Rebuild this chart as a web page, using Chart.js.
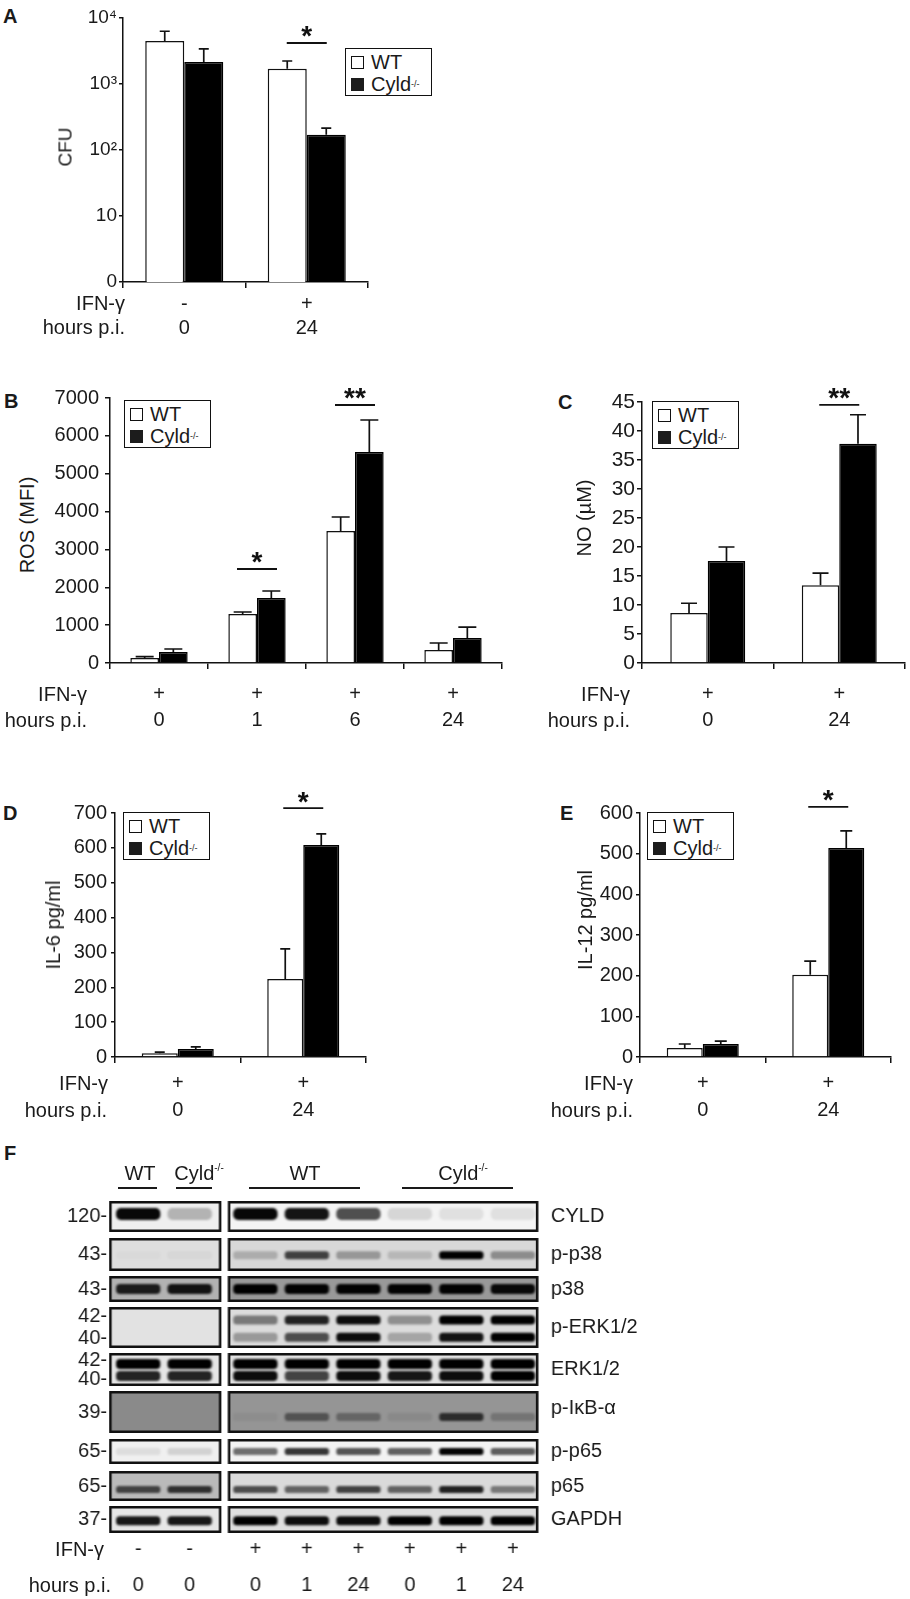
<!DOCTYPE html>
<html><head><meta charset="utf-8">
<script src="https://cdn.jsdelivr.net/npm/chart.js@4.4.1/dist/chart.umd.min.js"></script>
<style>
html,body{margin:0;padding:0;background:#fff}
body{width:910px;height:1599px;position:relative;overflow:hidden;font-family:'Liberation Sans',Arial,Helvetica,sans-serif;color:#1a1a1a}
.t{position:absolute;white-space:nowrap;line-height:1}
.t sup{font-size:10px;vertical-align:9px;line-height:0}
.legend{position:absolute;width:87px;height:48px;border:1.5px solid #111;box-sizing:border-box;background:#fff}
.legend .lr{position:absolute;left:5px;height:18px;display:flex;align-items:center;font-size:20px;line-height:1;white-space:nowrap}
.legend .sw{display:inline-block;width:13px;height:13px;box-sizing:border-box;border:1.5px solid #111;background:#fff;margin-right:7px}
.legend .sw.blk{background:#1c1c1c;border-color:#1c1c1c}
.legend sup{font-size:9px;vertical-align:9px;line-height:0}
.uline{position:absolute;height:2px;background:#1a1a1a}
</style></head><body>
<script>
// ---------------- DATA ----------------
// Panel A (CFU, log axis)
const aIFN = ['-', '+'];
const aHours = ['0', '24'];
const aWT = [4470, 1700];
const aWTErr = [1830, 530];
const aCyld = [2150, 170];
const aCyldErr = [1250, 45];
const aTickValues = [1, 10, 100, 1000, 10000];
const aTickLabels = ['0', '10', '10\u00B2', '10\u00B3', '10\u2074'];
const aSigCat = [1]; const aSigText = ['*']; const aSigLevel = [4180];

// Panel B (ROS MFI)
const bIFN = ['+', '+', '+', '+'];
const bHours = ['0', '1', '6', '24'];
const bWT = [132, 1294, 3487, 343];
const bWTErr = [35, 53, 370, 185];
const bCyld = [290, 1717, 5574, 660];
const bCyldErr = [80, 185, 845, 290];
const bTicks = [0, 1000, 2000, 3000, 4000, 5000, 6000, 7000];
const bSigCat = [1, 2]; const bSigText = ['*', '**']; const bSigLevel = [2483, 6815];

// Panel C (NO uM)
const cIFN = ['+', '+'];
const cHours = ['0', '24'];
const cWT = [8.6, 13.4];
const cWTErr = [1.7, 2.1];
const cCyld = [17.6, 37.8];
const cCyldErr = [2.4, 5.0];
const cTicks = [0, 5, 10, 15, 20, 25, 30, 35, 40, 45];
const cSigCat = [1]; const cSigText = ['**']; const cSigLevel = [44.5];

// Panel D (IL-6 pg/ml)
const dIFN = ['+', '+'];
const dHours = ['0', '24'];
const dWT = [11, 224];
const dWTErr = [3, 86];
const dCyld = [23, 608];
const dCyldErr = [6, 32];
const dTicks = [0, 100, 200, 300, 400, 500, 600, 700];
const dSigCat = [1]; const dSigText = ['*']; const dSigLevel = [714];

// Panel E (IL-12 pg/ml)
const eIFN = ['+', '+'];
const eHours = ['0', '24'];
const eWT = [22, 202];
const eWTErr = [10, 34];
const eCyld = [32, 514];
const eCyldErr = [7, 42];
const eTicks = [0, 100, 200, 300, 400, 500, 600];
const eSigCat = [1]; const eSigText = ['*']; const eSigLevel = [615];

// Panel F (western blot) - band intensities per lane (0..1)
const fIFN = ['-', '-', '+', '+', '+', '+', '+', '+'];
const fHours = ['0', '0', '0', '1', '24', '0', '1', '24'];
const fProteins = ['CYLD', 'p-p38', 'p38', 'p-ERK1/2', 'ERK1/2', 'p-I\u03BAB-\u03B1', 'p-p65', 'p65', 'GAPDH'];
const fMW = [['120-'], ['43-'], ['43-'], ['42-', '40-'], ['42-', '40-'], ['39-'], ['65-'], ['65-'], ['37-']];
const bandCYLD   = [0.97, 0.25, 0.97, 0.92, 0.68, 0.12, 0.08, 0.08];
const bandPP38   = [0.02, 0.03, 0.2, 0.7, 0.3, 0.15, 1.0, 0.35];
const bandP38    = [0.85, 0.9, 1.0, 0.98, 0.98, 0.98, 0.98, 0.95];
const bandPERK42 = [0, 0, 0.45, 0.85, 0.95, 0.35, 1.0, 1.0];
const bandPERK40 = [0, 0, 0.3, 0.65, 0.95, 0.25, 0.92, 1.0];
const bandERK42  = [1.0, 1.0, 1.0, 1.0, 1.0, 1.0, 1.0, 1.0];
const bandERK40  = [0.85, 0.85, 0.95, 0.7, 0.95, 0.9, 0.95, 1.0];
const bandPIKB   = [0, 0, 0.05, 0.45, 0.32, 0.08, 0.7, 0.22];
const bandPP65   = [0.08, 0.12, 0.55, 0.78, 0.65, 0.6, 0.98, 0.62];
const bandP65    = [0.65, 0.75, 0.65, 0.55, 0.7, 0.55, 0.85, 0.45];
const bandGAPDH  = [0.9, 0.9, 1.0, 0.95, 0.95, 1.0, 1.0, 1.0];
const fBands = [[bandCYLD], [bandPP38], [bandP38], [bandPERK42, bandPERK40], [bandERK42, bandERK40],
                [bandPIKB], [bandPP65], [bandP65], [bandGAPDH]];

// ---------------- LAYOUT / STYLE (not data) ----------------
const FONT = "'Liberation Sans', Arial, Helvetica, sans-serif";
Chart.defaults.font.family = FONT;
Chart.defaults.color = '#1a1a1a';
Chart.defaults.animation = false;

function mount(left, top, w, h) {
  const d = document.createElement('div');
  d.style.cssText = `position:absolute;left:${left}px;top:${top}px;width:${w}px;height:${h}px`;
  const c = document.createElement('canvas');
  d.appendChild(c); document.body.appendChild(d);
  return c;
}
function txt(html, x, y, o = {}) {
  const d = document.createElement('div');
  d.className = 't'; d.innerHTML = html;
  const size = o.size || 20;
  const tx = o.align === 'right' ? '-100%' : o.align === 'center' ? '-50%' : '0';
  d.style.left = x + 'px'; d.style.top = y + 'px';
  d.style.fontSize = size + 'px';
  d.style.fontWeight = o.bold ? '700' : '400';
  d.style.transform = o.rot ? 'translate(-50%,-50%) rotate(-90deg)' : `translate(${tx},-50%)`;
  document.body.appendChild(d);
}
function legend(x, y) {
  const d = document.createElement('div');
  d.className = 'legend';
  d.style.left = x + 'px'; d.style.top = y + 'px';
  d.innerHTML = '<div class="lr" style="top:4px"><span class="sw"></span>WT</div>' +
                '<div class="lr" style="top:26px"><span class="sw blk"></span>Cyld<sup>-/-</sup></div>';
  document.body.appendChild(d);
}

const errPlugin = {
  id: 'errbars',
  afterDatasetsDraw(chart, args, opts) {
    const ctx = chart.ctx, ys = chart.scales.y;
    chart.data.datasets.forEach((ds, di) => {
      const meta = chart.getDatasetMeta(di);
      meta.data.forEach((bar, i) => {
        const v = ds.data[i], e = opts.errs[di][i];
        const yb = ys.getPixelForValue(v), yt = ys.getPixelForValue(v + e);
        ctx.save();
        ctx.strokeStyle = '#111'; ctx.lineWidth = 1.7;
        ctx.beginPath();
        ctx.moveTo(bar.x, yb); ctx.lineTo(bar.x, yt);
        ctx.moveTo(bar.x - opts.cap, yt); ctx.lineTo(bar.x + opts.cap, yt);
        ctx.stroke();
        ctx.restore();
      });
    });
  }
};
const sigPlugin = {
  id: 'sigbars',
  afterDraw(chart, args, opts) {
    const ctx = chart.ctx, xs = chart.scales.x, ys = chart.scales.y;
    opts.cats.forEach((cat, k) => {
      const cx = xs.getPixelForValue(cat);
      const ly = ys.getPixelForValue(opts.levels[k]);
      ctx.save();
      ctx.strokeStyle = '#111'; ctx.lineWidth = 1.8;
      ctx.beginPath(); ctx.moveTo(cx - opts.half, ly); ctx.lineTo(cx + opts.half, ly); ctx.stroke();
      ctx.fillStyle = '#111';
      ctx.font = 'bold 28px ' + FONT;
      ctx.textAlign = 'center'; ctx.textBaseline = 'alphabetic';
      ctx.fillText(opts.texts[k], cx, ly - 14 + 0.585 * 28);
      ctx.restore();
    });
  }
};

function barPanel(p) {
  const WY = 62, HX = 75, PR = 6;
  const left = p.L - WY, top = p.T - p.padTop;
  const w = p.R + PR - left, h = p.B + HX - top;
  const canvas = mount(left, top, w, h);
  const y = {
    type: p.yType || 'linear', min: p.yMin, max: p.yMax,
    border: { display: true, color: '#111', width: 1.5 },
    grid: { drawOnChartArea: false, drawTicks: true, tickLength: p.yTl, color: '#111', lineWidth: 1.5 },
    ticks: { padding: p.yPad, font: { size: p.tickSize }, color: '#1a1a1a', autoSkip: false,
             callback: (v, i) => p.yLabels ? p.yLabels[i] : String(v) },
    afterBuildTicks: s => { s.ticks = p.yTicks.map(v => ({ value: v })); },
    afterFit: s => { s.width = WY; }
  };
  new Chart(canvas, {
    type: 'bar',
    data: {
      labels: p.ifn.map((v, i) => [v, p.hours[i]]),
      datasets: [
        { label: 'WT', data: p.wt, backgroundColor: '#ffffff', borderColor: '#111', borderWidth: 1.5 },
        { label: 'Cyld-/-', data: p.cyld, backgroundColor: '#000', borderColor: '#000', borderWidth: 1.5 }
      ]
    },
    options: {
      responsive: true, maintainAspectRatio: false, animation: false,
      layout: { padding: { top: p.padTop, right: PR, left: 0, bottom: 0 } },
      datasets: { bar: { categoryPercentage: p.catPct, barPercentage: 1 } },
      scales: {
        x: {
          border: { display: true, color: '#111', width: 1.5 },
          grid: { offset: true, drawOnChartArea: false, drawTicks: true, tickLength: 6, color: '#111', lineWidth: 1.5 },
          ticks: { padding: p.xPad, font: { size: 20, lineHeight: p.xLH + 'px' }, color: '#1a1a1a', maxRotation: 0, autoSkip: false },
          afterFit: s => { s.height = HX; }
        },
        y: y
      },
      plugins: {
        legend: { display: false }, tooltip: { enabled: false },
        errbars: { errs: [p.wtErr, p.cyldErr], cap: p.cap },
        sigbars: { cats: p.sigCat, texts: p.sigText, levels: p.sigLevel, half: 20 }
      }
    },
    plugins: [errPlugin, sigPlugin]
  });
}

// ---- Panel A ----
barPanel({ L: 123, R: 368, T: 18, B: 282, padTop: 18, catPct: 0.637,
  ifn: aIFN, hours: aHours, wt: aWT, wtErr: aWTErr, cyld: aCyld, cyldErr: aCyldErr,
  yType: 'logarithmic', yMin: 1, yMax: 10000, yTicks: aTickValues, yLabels: aTickLabels,
  yTl: 4, yPad: 2, tickSize: 19, xPad: 4, xLH: 24, cap: 5,
  sigCat: aSigCat, sigText: aSigText, sigLevel: aSigLevel });
// ---- Panel B ----
barPanel({ L: 110, R: 502, T: 398, B: 663, padTop: 32, catPct: 0.585,
  ifn: bIFN, hours: bHours, wt: bWT, wtErr: bWTErr, cyld: bCyld, cyldErr: bCyldErr,
  yMin: 0, yMax: 7000, yTicks: bTicks,
  yTl: 5, yPad: 6, tickSize: 20, xPad: 12, xLH: 26, cap: 9,
  sigCat: bSigCat, sigText: bSigText, sigLevel: bSigLevel });
// ---- Panel C ----
barPanel({ L: 642, R: 905, T: 402, B: 663, padTop: 32, catPct: 0.57,
  ifn: cIFN, hours: cHours, wt: cWT, wtErr: cWTErr, cyld: cCyld, cyldErr: cCyldErr,
  yMin: 0, yMax: 45, yTicks: cTicks,
  yTl: 5, yPad: 2, tickSize: 21, xPad: 12, xLH: 26, cap: 8,
  sigCat: cSigCat, sigText: cSigText, sigLevel: cSigLevel });
// ---- Panel D ----
barPanel({ L: 115, R: 366, T: 813, B: 1057, padTop: 40, catPct: 0.574,
  ifn: dIFN, hours: dHours, wt: dWT, wtErr: dWTErr, cyld: dCyld, cyldErr: dCyldErr,
  yMin: 0, yMax: 700, yTicks: dTicks,
  yTl: 4, yPad: 4, tickSize: 20, xPad: 6.5, xLH: 27, cap: 5,
  sigCat: dSigCat, sigText: dSigText, sigLevel: dSigLevel });
// ---- Panel E ----
barPanel({ L: 640, R: 891, T: 813, B: 1057, padTop: 40, catPct: 0.574,
  ifn: eIFN, hours: eHours, wt: eWT, wtErr: eWTErr, cyld: eCyld, cyldErr: eCyldErr,
  yMin: 0, yMax: 600, yTicks: eTicks,
  yTl: 4, yPad: 3, tickSize: 20, xPad: 6.5, xLH: 27, cap: 6,
  sigCat: eSigCat, sigText: eSigText, sigLevel: eSigLevel });

// ---- HTML text for panels A-E ----
txt('A', 3, 16, { bold: true });
txt('B', 4, 401, { bold: true });
txt('C', 558, 402, { bold: true });
txt('D', 3, 813, { bold: true });
txt('E', 560, 813, { bold: true });
txt('F', 4, 1153, { bold: true });

txt('CFU', 65, 147, { rot: true, size: 19 });
txt('ROS (MFI)', 27, 525, { rot: true });
txt('NO (\u00B5M)', 584, 518, { rot: true });
txt('IL-6 pg/ml', 53, 925, { rot: true });
txt('IL-12 pg/ml', 585, 920, { rot: true });

txt('IFN-\u03B3', 125, 303, { align: 'right' });
txt('hours p.i.', 125, 327, { align: 'right' });
txt('IFN-\u03B3', 87, 694, { align: 'right' });
txt('hours p.i.', 87, 720, { align: 'right' });
txt('IFN-\u03B3', 630, 694, { align: 'right' });
txt('hours p.i.', 630, 720, { align: 'right' });
txt('IFN-\u03B3', 108, 1083, { align: 'right' });
txt('hours p.i.', 107, 1110, { align: 'right' });
txt('IFN-\u03B3', 633, 1083, { align: 'right' });
txt('hours p.i.', 633, 1110, { align: 'right' });

legend(345, 48);
legend(124, 400);
legend(652, 401);
legend(123, 812);
legend(647, 812);

// ---------------- Panel F: western blot ----------------
const LANE_GAP = 0.276;            // extra spacing between the two blots (lane units)
const laneX = fIFN.map((_, i) => i + (i >= 2 ? LANE_GAP : 0));
const blots = [ { from: 0, to: 1, padL: 0.564, padR: 0.615 }, { from: 2, to: 7, padL: 0.535, padR: 0.496 } ];
const rowTop = [0, 37, 75, 106, 152, 190, 238, 270, 305];
const rowH   = [31, 33, 26, 41, 33, 42, 25, 30, 27];
const bandFrac = [[0.42], [0.52], [0.5], [0.32, 0.74], [0.33, 0.7], [0.62], [0.5], [0.62], [0.55]];
const bandH  = [12, 8, 10, 9, 10, 8, 7, 7, 9];
const mwFrac = [[0.5], [0.5], [0.5], [0.24, 0.76], [0.24, 0.79], [0.5], [0.5], [0.5], [0.5]];
const nameFrac = [0.5, 0.5, 0.5, 0.5, 0.5, 0.42, 0.5, 0.5, 0.5];
const bgLeft  = ['#efefef', '#dedede', '#b2b2b2', '#e2e2e2', '#e6e6e6', '#8a8a8a', '#f0f0f0', '#bababa', '#e6e6e6'];
const bgRight = ['#f4f4f4', '#d8d8d8', '#999999', '#dcdcdc', '#e2e2e2', '#959595', '#f3f3f3', '#dadada', '#dedede'];
const Y_SPAN = 332;

const blotPlugin = {
  id: 'blot',
  afterDraw(chart) {
    const ctx = chart.ctx, xs = chart.scales.x, ys = chart.scales.y;
    rowTop.forEach((rt, r) => {
      blots.forEach((b, bi) => {
        const x0 = xs.getPixelForValue(laneX[b.from] - b.padL);
        const x1 = xs.getPixelForValue(laneX[b.to] + b.padR);
        const y0 = ys.getPixelForValue(rt), y1 = ys.getPixelForValue(rt + rowH[r]);
        ctx.save();
        ctx.fillStyle = bi === 0 ? bgLeft[r] : bgRight[r];
        ctx.fillRect(x0, y0, x1 - x0, y1 - y0);
        ctx.beginPath(); ctx.rect(x0, y0, x1 - x0, y1 - y0); ctx.clip();
        fBands[r].forEach((vals, k) => {
          const cy = ys.getPixelForValue(rt + bandFrac[r][k] * rowH[r]);
          for (let i = b.from; i <= b.to; i++) {
            const a = vals[i];
            if (a <= 0) continue;
            const cx = xs.getPixelForValue(laneX[i]);
            const hw = xs.getPixelForValue(laneX[i] + 0.43) - cx;
            const hh = bandH[r] / 2;
            ctx.filter = 'blur(1.3px)';
            ctx.fillStyle = `rgba(0,0,0,${Math.min(1, a)})`;
            ctx.beginPath();
            if (ctx.roundRect) ctx.roundRect(cx - hw, cy - hh, 2 * hw, 2 * hh, hh * 0.8);
            else ctx.rect(cx - hw, cy - hh, 2 * hw, 2 * hh);
            ctx.fill();
          }
        });
        ctx.restore();
        ctx.save();
        ctx.strokeStyle = '#111'; ctx.lineWidth = 2.5;
        ctx.strokeRect(x0 + 1.25, y0 + 1.25, x1 - x0 - 2.5, y1 - y0 - 2.5);
        ctx.restore();
      });
    });
  }
};

(function () {
  const L = 109, R = 537.5, T = 1201, B = 1533;
  const WL = 100, WR = 110, PT = 30, HXF = 80;
  const left = L - WL, top = T - PT, w = R + WR - left, h = B + HXF - top;
  const canvas = mount(left, top, w, h);
  const x0 = laneX[blots[0].from] - blots[0].padL, x1 = laneX[blots[1].to] + blots[1].padR;
  const mwTicks = [], mwLabels = [];
  fMW.forEach((labs, r) => labs.forEach((lab, k) => { mwTicks.push(rowTop[r] + mwFrac[r][k] * rowH[r]); mwLabels.push(lab); }));
  const nameTicks = fProteins.map((_, r) => rowTop[r] + nameFrac[r] * rowH[r]);
  new Chart(canvas, {
    type: 'scatter',
    data: { datasets: [{ data: [], showLine: false }] },
    options: {
      responsive: true, maintainAspectRatio: false, animation: false,
      layout: { padding: { top: PT, right: 0, left: 0, bottom: 0 } },
      scales: {
        x: {
          type: 'linear', min: x0, max: x1,
          border: { display: false }, grid: { display: false, drawTicks: false },
          ticks: { padding: -2, font: { size: 20, lineHeight: '36px' }, color: '#1a1a1a', maxRotation: 0, autoSkip: false,
                   callback: (v, i) => [fIFN[i], fHours[i]] },
          afterBuildTicks: s => { s.ticks = laneX.map(v => ({ value: v })); },
          afterFit: s => { s.height = HXF; }
        },
        y: {
          type: 'linear', position: 'left', min: 0, max: Y_SPAN, reverse: true,
          border: { display: false }, grid: { display: false, drawTicks: false },
          ticks: { padding: 2, font: { size: 20 }, color: '#1a1a1a', autoSkip: false, callback: (v, i) => mwLabels[i] },
          afterBuildTicks: s => { s.ticks = mwTicks.map(v => ({ value: v })); },
          afterFit: s => { s.width = WL; }
        },
        y2: {
          type: 'linear', position: 'right', min: 0, max: Y_SPAN, reverse: true,
          border: { display: false }, grid: { display: false, drawTicks: false },
          ticks: { padding: 12.5, font: { size: 20 }, color: '#1a1a1a', autoSkip: false, callback: (v, i) => fProteins[i] },
          afterBuildTicks: s => { s.ticks = nameTicks.map(v => ({ value: v })); },
          afterFit: s => { s.width = WR; }
        }
      },
      plugins: { legend: { display: false }, tooltip: { enabled: false } }
    },
    plugins: [blotPlugin]
  });
})();

// F header and row titles
txt('WT', 140, 1173, { align: 'center' });
txt('Cyld<sup>-/-</sup>', 199, 1173, { align: 'center' });
txt('WT', 305, 1173, { align: 'center' });
txt('Cyld<sup>-/-</sup>', 463, 1173, { align: 'center' });
[[118, 157], [176, 212], [249, 360], [402, 513]].forEach(([a, b]) => {
  const d = document.createElement('div'); d.className = 'uline';
  d.style.left = a + 'px'; d.style.width = (b - a) + 'px'; d.style.top = '1187px';
  document.body.appendChild(d);
});
txt('IFN-\u03B3', 104, 1549, { align: 'right' });
txt('hours p.i.', 111, 1585, { align: 'right' });
</script>
</body></html>
